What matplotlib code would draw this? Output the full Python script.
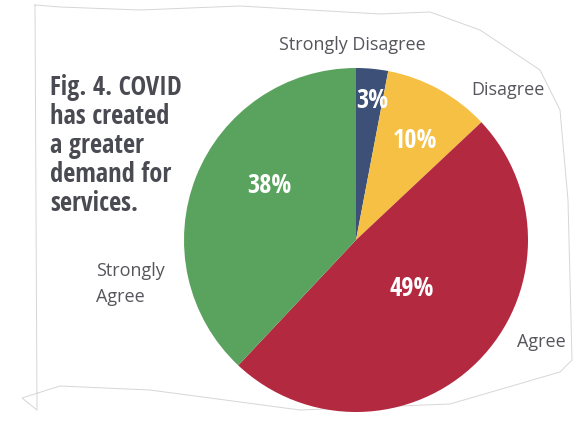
import matplotlib.pyplot as plt

# data
labels = ['Strongly Disagree', 'Disagree', 'Agree', 'Strongly\nAgree']
shares = [3, 10, 49, 38]
colors = ['#3d5178', '#f5c043', '#b32940', '#5aa35e']
title_lines = 'Fig. 4. COVID\nhas created\na greater\ndemand for\nservices.'

narrow = ['Open Sans Condensed', 'Roboto Condensed', 'DejaVu Sans']
plt.rcParams['font.family'] = ['Open Sans', 'DejaVu Sans']

W, H = 577, 422
fig = plt.figure(figsize=(W / 100, H / 100), dpi=100)
fig.patch.set_facecolor('white')

# faint torn-paper outline behind the chart
bg = fig.add_axes([0, 0, 1, 1])
bg.set_xlim(0, W)
bg.set_ylim(H, 0)
bg.axis('off')
edge_x = [35, 60, 140, 240, 380, 430, 480, 540, 560, 568, 572, 560, 450, 300, 150, 60, 22, 37, 35]
edge_y = [5, 7, 10, 6, 14, 12, 30, 70, 110, 200, 360, 372, 404, 410, 390, 386, 398, 410, 5]
bg.plot(edge_x, edge_y, color='#d6d6d6', lw=0.7)

# pie
cx, cy, r = 356, 240, 172
ax = fig.add_axes([(cx - r) / W, (H - cy - r) / H, 2 * r / W, 2 * r / H])
wedges, _ = ax.pie(shares, colors=colors, startangle=90, counterclock=False,
                   wedgeprops=dict(linewidth=0))
ax.set_xlim(-1, 1)
ax.set_ylim(-1, 1)
ax.set_aspect('auto')

pct_pos = [(0.093, 0.81), (0.343, 0.58), (0.326, -0.28), (-0.506, 0.314)]
for s, (x, y) in zip(shares, pct_pos):
    ax.text(x, y, f'{s}%', ha='center', va='center', color='white',
            fontsize=19, fontweight='bold', family=narrow)

lab_col = '#55555c'
fig.text(352 / W, 1 - 45 / H, labels[0], ha='center', va='center', fontsize=13, color=lab_col)
fig.text(508 / W, 1 - 90 / H, labels[1], ha='center', va='center', fontsize=13, color=lab_col)
fig.text(541 / W, 1 - 342 / H, labels[2], ha='center', va='center', fontsize=13, color=lab_col)
fig.text(96 / W, 1 - 284 / H, labels[3], ha='left', va='center', fontsize=13, color=lab_col,
         linespacing=1.5)

fig.text(50 / W, 1 - 74 / H, title_lines, ha='left', va='top', fontsize=19,
         fontweight='bold', color='#4a4a52', linespacing=1.1, family=narrow)

fig.savefig('out.png', dpi=100)
